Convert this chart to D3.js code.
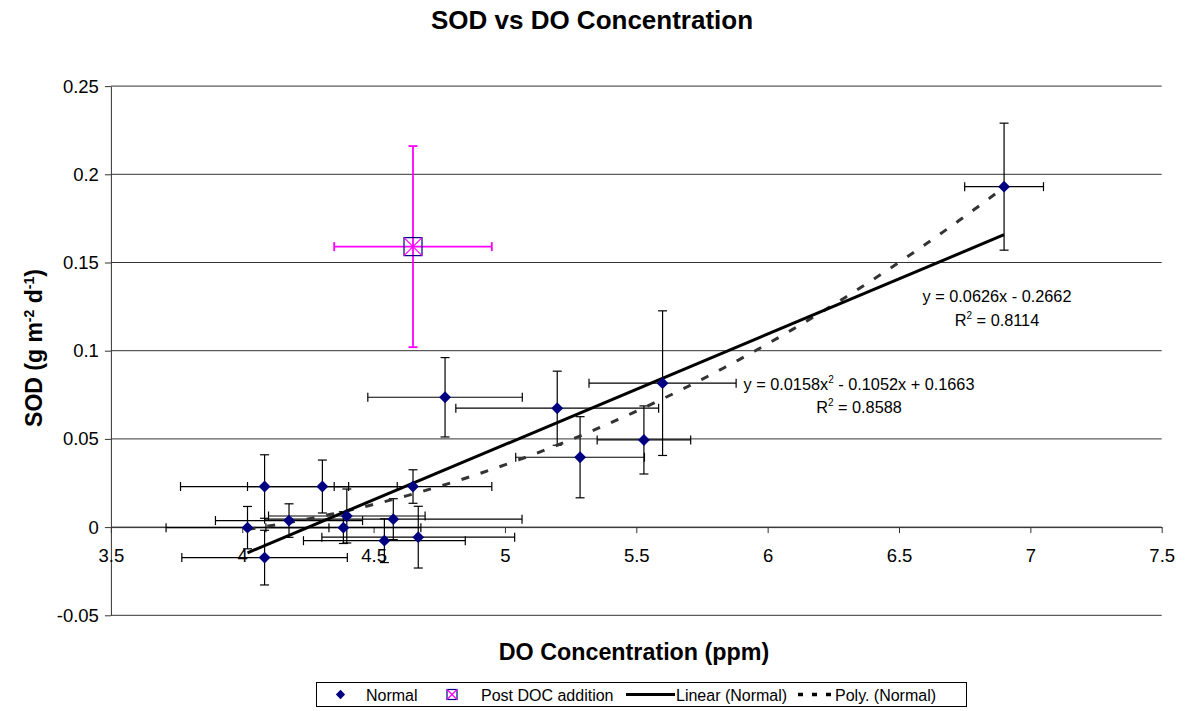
<!DOCTYPE html>
<html>
<head>
<meta charset="utf-8">
<script src="https://cdn.jsdelivr.net/npm/d3@7"></script>
<style>
  html, body { margin: 0; padding: 0; background: #fff; }
  svg { display: block; font-family: "Liberation Sans", Arial, sans-serif; }
</style>
</head>
<body>
<svg id="chart" width="1185" height="711"></svg>
<script>
// ---- Data ----
const normalX    = [4.02, 4.085, 4.085, 4.178, 4.305, 4.398, 4.385, 4.541, 4.575, 4.65, 4.67, 4.772, 5.199, 5.286, 5.529, 5.60, 6.90];
const normalY    = [-0.0003, 0.023, -0.0173, 0.0037, 0.023, 0.0063, -0.0003, -0.0077, 0.0045, 0.023, -0.0057, 0.0736, 0.0674, 0.0396, 0.0494, 0.0816, 0.193];
const normalXErr = [0.31, 0.32, 0.315, 0.28, 0.285, 0.298, 0.295, 0.308, 0.49, 0.30, 0.367, 0.294, 0.386, 0.245, 0.178, 0.28, 0.15];
const normalYErr = [0.012, 0.018, 0.0155, 0.0095, 0.015, 0.0153, 0.009, 0.0124, 0.0116, 0.0095, 0.0175, 0.0225, 0.021, 0.023, 0.0193, 0.041, 0.036];

const postX    = [4.65];
const postY    = [0.159];
const postXErr = [0.30];
const postYErr = [0.057];

const linearCoef = [0.0626, -0.2662];          // y = a x + b
const polyCoef   = [0.0158, -0.1052, 0.1663];  // y = a x^2 + b x + c

const xTicks = [3.5, 4, 4.5, 5, 5.5, 6, 6.5, 7, 7.5];
const xTickLabels = ["3.5", "4", "4.5", "5", "5.5", "6", "6.5", "7", "7.5"];
const yTicks = [-0.05, 0, 0.05, 0.1, 0.15, 0.2, 0.25];
const yTickLabels = ["-0.05", "0", "0.05", "0.1", "0.15", "0.2", "0.25"];

const legendLabels = ["Normal", "Post DOC addition", "Linear (Normal)", "Poly. (Normal)"];

// ---- Layout ----
const svg = d3.select("#chart");
const plotL = 110.9, plotR = 1161.7, plotT = 86.1, plotB = 615.3;
const x = d3.scaleLinear().domain([3.5, 7.5]).range([plotL, plotR]);
const y = d3.scaleLinear().domain([-0.05, 0.25]).range([plotB, plotT]);
const navy = "#000080", magenta = "#FF00FF";

// Title
svg.append("text").attr("x", 592).attr("y", 29).attr("text-anchor", "middle")
  .attr("font-size", 26).attr("font-weight", "bold").text("SOD vs DO Concentration");

// Gridlines
svg.append("g").selectAll("line").data(yTicks).join("line")
  .attr("x1", plotL).attr("x2", plotR)
  .attr("y1", d => y(d)).attr("y2", d => y(d))
  .attr("stroke", "#333").attr("stroke-width", 1);

// Y axis
const yAxis = svg.append("g").attr("transform", `translate(${plotL},0)`)
  .call(d3.axisLeft(y).tickValues(yTicks).tickSize(6).tickSizeOuter(0).tickPadding(6)
    .tickFormat(d => yTickLabels[yTicks.indexOf(d)]));
yAxis.selectAll("text").attr("font-size", 18.5).attr("fill", "#000").attr("font-family", "Liberation Sans, Arial, sans-serif");
yAxis.selectAll("line, path").attr("stroke", "#333");

// X axis at y = 0
const xAxis = svg.append("g").attr("transform", `translate(0,${y(0)})`)
  .call(d3.axisBottom(x).tickValues(xTicks).tickSize(6).tickSizeOuter(0).tickPadding(15.5)
    .tickFormat(d => xTickLabels[xTicks.indexOf(d)]));
xAxis.selectAll("text").attr("font-size", 18.5).attr("fill", "#000").attr("font-family", "Liberation Sans, Arial, sans-serif");
xAxis.selectAll("line, path").attr("stroke", "#333");

// Axis titles
svg.append("text").attr("x", 634).attr("y", 660).attr("text-anchor", "middle")
  .attr("font-size", 23.3).attr("font-weight", "bold").text("DO Concentration (ppm)");

const yt = svg.append("text").attr("transform", "translate(42,348) rotate(-90)")
  .attr("text-anchor", "middle").attr("font-size", 23).attr("font-weight", "bold");
yt.append("tspan").text("SOD (g m");
yt.append("tspan").attr("font-size", 14).attr("dy", -8).text("-2");
yt.append("tspan").attr("dy", 8).text(" d");
yt.append("tspan").attr("font-size", 14).attr("dy", -8).text("-1");
yt.append("tspan").attr("dy", 8).text(")");

// Error bars helper
function errorBars(g, xs, ys, xe, ye, color, width) {
  const cap = 4.5;
  xs.forEach((xv, i) => {
    const px = x(xv), py = y(ys[i]);
    const x0 = x(xv - xe[i]), x1 = x(xv + xe[i]);
    const y0 = y(ys[i] - ye[i]), y1 = y(ys[i] + ye[i]);
    const segs = [
      [x0, py, x1, py], [x0, py - cap, x0, py + cap], [x1, py - cap, x1, py + cap],
      [px, y0, px, y1], [px - cap, y0, px + cap, y0], [px - cap, y1, px + cap, y1]
    ];
    segs.forEach(s => g.append("line").attr("x1", s[0]).attr("y1", s[1]).attr("x2", s[2]).attr("y2", s[3])
      .attr("stroke", color).attr("stroke-width", width));
  });
}
errorBars(svg.append("g"), normalX, normalY, normalXErr, normalYErr, "#000", 1.2);
errorBars(svg.append("g"), postX, postY, postXErr, postYErr, magenta, 1.8);

// Trendlines
const xmin = d3.min(normalX), xmax = d3.max(normalX);
const samples = d3.range(0, 101).map(i => xmin + (xmax - xmin) * i / 100);
const line = d3.line().x(d => x(d[0])).y(d => y(d[1]));
svg.append("path")
  .attr("d", line(samples.map(v => [v, polyCoef[0] * v * v + polyCoef[1] * v + polyCoef[2]])))
  .attr("fill", "none").attr("stroke", "#333").attr("stroke-width", 3).attr("stroke-dasharray", "8,12");
svg.append("path")
  .attr("d", line([xmin, xmax].map(v => [v, linearCoef[0] * v + linearCoef[1]])))
  .attr("fill", "none").attr("stroke", "#000").attr("stroke-width", 3);

// Markers
const diamond = d3.symbol().type(d3.symbolDiamond2).size(90);
svg.append("g").selectAll("path").data(normalX.map((v, i) => [v, normalY[i]])).join("path")
  .attr("d", diamond).attr("transform", d => `translate(${x(d[0])},${y(d[1])})`)
  .attr("fill", navy);

function postMarker(g, cx, cy, s) {
  g.append("rect").attr("x", cx - s / 2).attr("y", cy - s / 2).attr("width", s).attr("height", s)
    .attr("fill", "none").attr("stroke", navy).attr("stroke-width", 1.2);
  g.append("line").attr("x1", cx - s / 2).attr("y1", cy - s / 2).attr("x2", cx + s / 2).attr("y2", cy + s / 2)
    .attr("stroke", magenta).attr("stroke-width", 1.2);
  g.append("line").attr("x1", cx - s / 2).attr("y1", cy + s / 2).attr("x2", cx + s / 2).attr("y2", cy - s / 2)
    .attr("stroke", magenta).attr("stroke-width", 1.2);
}
postX.forEach((v, i) => postMarker(svg.append("g"), x(v), y(postY[i]), 18));

// Equation labels
function eq(cx, cy, parts) {
  const t = svg.append("text").attr("x", cx).attr("y", cy).attr("text-anchor", "middle").attr("font-size", 16.3);
  parts.forEach(p => {
    const ts = t.append("tspan").text(p.t);
    if (p.sup) ts.attr("font-size", 10).attr("dy", -7);
    if (p.down) ts.attr("dy", 7);
  });
}
eq(997, 301.5, [{t: "y = 0.0626x - 0.2662"}]);
eq(997, 326, [{t: "R"}, {t: "2", sup: true}, {t: " = 0.8114", down: true}]);
eq(859, 390, [{t: "y = 0.0158x"}, {t: "2", sup: true}, {t: " - 0.1052x + 0.1663", down: true}]);
eq(859, 412.5, [{t: "R"}, {t: "2", sup: true}, {t: " = 0.8588", down: true}]);

// Legend
const lg = svg.append("g");
lg.append("rect").attr("x", 316.5).attr("y", 682.5).attr("width", 650).attr("height", 24)
  .attr("fill", "#fff").attr("stroke", "#000").attr("stroke-width", 1);
const ly = 694.5;
lg.append("path").attr("d", d3.symbol().type(d3.symbolDiamond2).size(55)).attr("transform", `translate(340.5,${ly})`).attr("fill", navy);
lg.append("text").attr("x", 366).attr("y", ly + 6).attr("font-size", 16).text(legendLabels[0]);
postMarker(lg, 452, ly, 10);
lg.append("text").attr("x", 481).attr("y", ly + 6).attr("font-size", 16).text(legendLabels[1]);
lg.append("line").attr("x1", 626).attr("x2", 675).attr("y1", ly).attr("y2", ly).attr("stroke", "#000").attr("stroke-width", 3);
lg.append("text").attr("x", 676).attr("y", ly + 6).attr("font-size", 16).text(legendLabels[2]);
lg.append("line").attr("x1", 798).attr("x2", 832).attr("y1", ly).attr("y2", ly).attr("stroke", "#000").attr("stroke-width", 3.5)
  .attr("stroke-dasharray", "5,9");
lg.append("text").attr("x", 835).attr("y", ly + 6).attr("font-size", 16).text(legendLabels[3]);
</script>
</body>
</html>
